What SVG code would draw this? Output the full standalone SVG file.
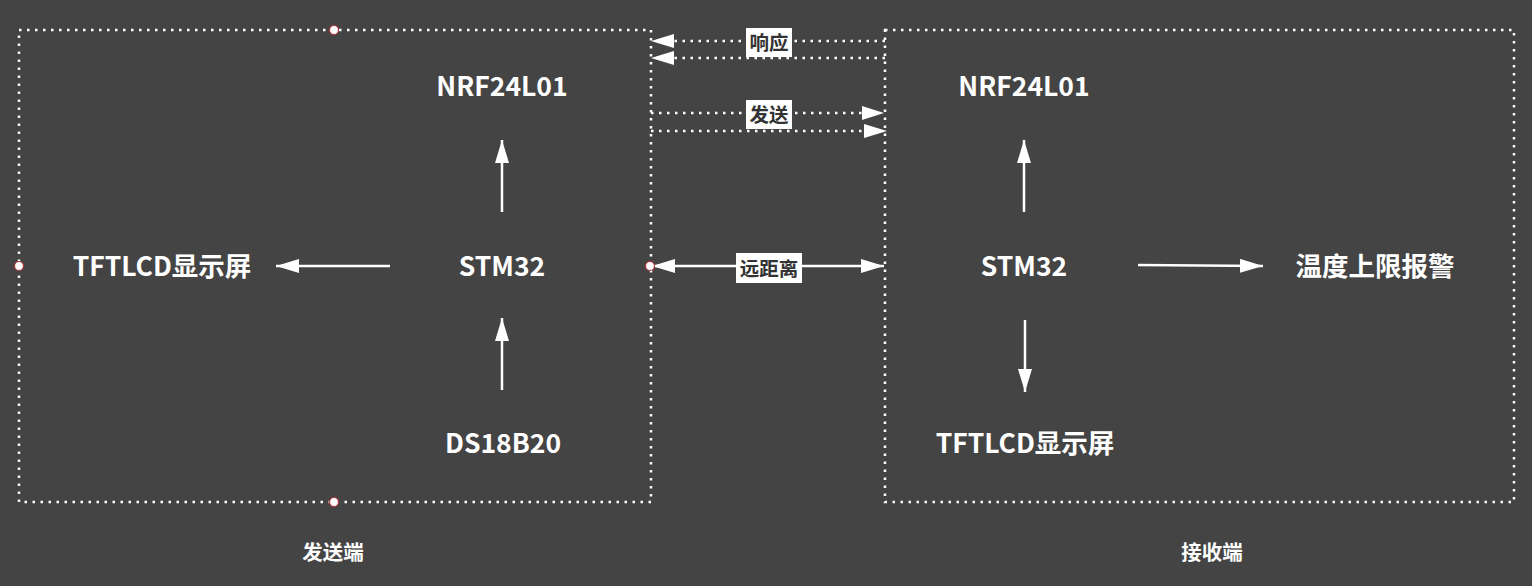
<svg xmlns="http://www.w3.org/2000/svg" width="1532" height="586" viewBox="0 0 1532 586">
<defs>
<style>
.bg{fill:#444444}
.frame{fill:none;stroke:#ffffff;stroke-width:2.5;stroke-dasharray:2.5 5.5}
.dl{fill:none;stroke:#ffffff;stroke-width:2.5;stroke-dasharray:2.5 5.5}
.sl{fill:none;stroke:#ffffff;stroke-width:2.5}
.t{font-family:"Noto Sans CJK SC","Noto Sans",sans-serif;font-weight:bold;font-size:26.5px;fill:#ffffff;text-anchor:middle;dominant-baseline:central}
.cap{font-family:"Noto Sans CJK SC",sans-serif;font-weight:bold;font-size:20.5px;fill:#ffffff;text-anchor:middle;dominant-baseline:central}
.lb{fill:#ffffff}
.lt{font-family:"Noto Sans CJK SC",sans-serif;font-weight:bold;font-size:19.5px;fill:#333333;text-anchor:middle;dominant-baseline:central}
.pt{fill:#ffffff;stroke:#b03030;stroke-width:1.2}
</style>
<marker id="ah" markerUnits="userSpaceOnUse" markerWidth="23" markerHeight="14" refX="23" refY="7" orient="auto-start-reverse">
<path d="M0,0 L23,7 L0,14 z" fill="#ffffff"/>
</marker>
</defs>
<rect class="bg" x="0" y="0" width="1532" height="586"/>

<g id="sender-frame">
<rect class="frame" x="19" y="30" width="632" height="472"/>
<circle class="pt" cx="334" cy="30" r="4.5"/>
<circle class="pt" cx="334" cy="502" r="4.5"/>
<circle class="pt" cx="19" cy="266" r="4.5"/>
<text class="cap" x="333" y="551">发送端</text>
</g>
<g id="receiver-frame">
<rect class="frame" x="885" y="30" width="629" height="472"/>
<text class="cap" x="1212" y="551">接收端</text>
</g>

<g id="s-nrf"><text class="t" x="502" y="84">NRF24L01</text></g>
<g id="s-stm"><text class="t" x="502" y="264">STM32</text></g>
<g id="s-ds"><text class="t" x="503" y="441">DS18B20</text></g>
<g id="s-lcd"><text class="t" x="162" y="264">TFTLCD显示屏</text></g>

<g id="r-nrf"><text class="t" x="1024" y="84">NRF24L01</text></g>
<g id="r-stm"><text class="t" x="1024" y="264">STM32</text></g>
<g id="r-lcd"><text class="t" x="1025" y="441">TFTLCD显示屏</text></g>
<g id="r-alarm"><text class="t" x="1375" y="264">温度上限报警</text></g>

<g id="connectors">
<line class="sl" x1="502" y1="212" x2="502" y2="140" marker-end="url(#ah)"/>
<line class="sl" x1="502" y1="390" x2="502" y2="318" marker-end="url(#ah)"/>
<line class="sl" x1="390" y1="266" x2="276" y2="266" marker-end="url(#ah)"/>
<line class="sl" x1="1024" y1="212" x2="1024" y2="140" marker-end="url(#ah)"/>
<line class="sl" x1="1025" y1="320" x2="1025" y2="392" marker-end="url(#ah)"/>
<line class="sl" x1="1138" y1="265" x2="1263" y2="266" marker-end="url(#ah)"/>

<line class="dl" x1="885" y1="41" x2="674" y2="41"/>
<path d="M674,34 L651,41 L674,48 z" fill="#ffffff"/>
<line class="dl" x1="885" y1="58" x2="674" y2="58"/>
<path d="M674,51 L651,58 L674,65 z" fill="#ffffff"/>
<line class="dl" x1="651" y1="113" x2="862" y2="113"/>
<path d="M862,106 L884,113 L862,120 z" fill="#ffffff"/>
<line class="dl" x1="651" y1="131" x2="864" y2="131"/>
<path d="M864,124 L887,131 L864,138 z" fill="#ffffff"/>
<line class="sl" x1="652" y1="266" x2="884" y2="266" marker-start="url(#ah)" marker-end="url(#ah)"/>

<rect class="lb" x="746" y="28" width="46" height="29"/>
<text class="lt" x="769" y="41">响应</text>
<rect class="lb" x="746" y="100" width="46" height="29"/>
<text class="lt" x="769" y="113">发送</text>
<rect class="lb" x="736" y="253" width="66" height="30"/>
<text class="lt" x="769" y="267">远距离</text>
</g>
<circle class="pt" cx="650" cy="266" r="4.5"/>
</svg>
